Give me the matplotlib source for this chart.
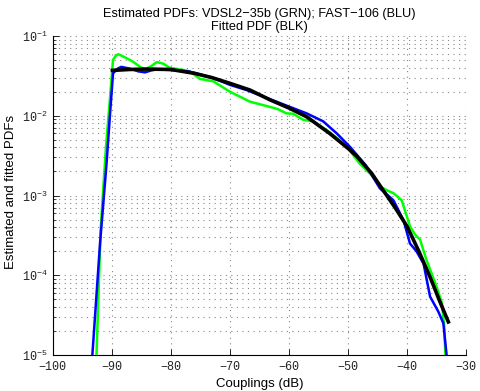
import matplotlib
matplotlib.use("Agg")
import matplotlib.pyplot as plt
from matplotlib.ticker import LogLocator, NullFormatter, FixedLocator

# Green: VDSL2-35b estimated PDF
green_x = [-93.0, -92.6, -91.9, -91.0, -90.3, -89.8, -89.3, -88.9, -88.0, -86.5, -85.2, -84.4,
           -83.3, -82.4, -81.3, -80.2, -78.5, -76.8, -75.1, -72.8, -70.0, -66.6, -64.4,
           -62.0, -60.4, -59.3, -57.6, -55.9, -53.6, -51.8, -50.2, -48.0, -46.0, -44.6,
           -43.3, -42.3, -40.9, -39.5, -38.6, -37.8, -36.7, -35.0, -34.1, -33.7, -33.5, -33.3]
green_y = [3e-6, 1e-5, 3.7e-4, 4e-3, 0.017, 0.050, 0.057, 0.059, 0.055, 0.048, 0.041, 0.038,
           0.042, 0.047, 0.045, 0.040, 0.038, 0.036, 0.029, 0.027, 0.020, 0.015, 0.0136,
           0.0122, 0.0107, 0.0106, 0.0089, 0.0085, 0.0066, 0.0052, 0.0041, 0.0025, 0.0018, 0.0013,
           0.00115, 0.00107, 8.7e-4, 4.1e-4, 3.2e-4, 2.8e-4, 1.55e-4, 7.2e-5, 4.5e-5, 2.3e-5, 1e-5, 3e-6]

# Blue: FAST-106 estimated PDF
blue_x = [-93.6, -93.3, -92.0, -90.9, -90.3, -89.8, -89.0, -88.4, -87.0, -85.5, -84.4,
          -83.3, -82.4, -80.0, -77.0, -73.0, -70.0, -67.2, -64.0, -61.5, -59.0, -57.0,
          -54.2, -51.9, -49.7, -47.0, -44.6, -42.3, -40.6, -39.5, -38.4, -37.2, -36.1,
          -34.7, -33.85, -33.3, -33.0]
blue_y = [3e-6, 1e-5, 2.5e-4, 2.5e-3, 0.0107, 0.034, 0.039, 0.041, 0.039, 0.036, 0.035,
          0.037, 0.038, 0.0375, 0.036, 0.030, 0.0244, 0.021, 0.017, 0.0144, 0.0122, 0.0107,
          0.0085, 0.006, 0.0041, 0.0024, 0.00123, 8.7e-4, 4.9e-4, 2.5e-4, 2.0e-4, 1.4e-4, 5.4e-5,
          3.5e-5, 2.5e-5, 1e-5, 3e-6]

# Black: fitted PDF
black_x = [-89.9, -87.0, -84.0, -80.0, -76.0, -73.0, -70.0, -66.6, -63.2, -60.0, -57.0,
           -53.1, -50.0, -48.5, -46.0, -44.0, -42.0, -40.0, -38.0, -36.1, -34.5, -33.0]
black_y = [0.037, 0.038, 0.0385, 0.038, 0.034, 0.030, 0.0255, 0.021, 0.0158, 0.0125, 0.0097,
           0.006, 0.0039, 0.0031, 0.0019, 0.00115, 7.0e-4, 4.1e-4, 2.0e-4, 9.5e-5, 4.8e-5, 2.6e-5]

x_ticks = [-100, -90, -80, -70, -60, -50, -40, -30]
title_text = "Estimated PDFs: VDSL2\u221235b (GRN); FAST\u2212106 (BLU)\nFitted PDF (BLK)"
x_label = "Couplings (dB)"
y_label = "Estimated and fitted PDFs"

fig = plt.figure(figsize=(4.8, 3.91), dpi=100)
ax = fig.add_axes([0.110, 0.092, 0.861, 0.816])

ax.semilogy(green_x, green_y, color=(0, 1, 0), lw=1.8, zorder=3)
ax.semilogy(blue_x, blue_y, color=(0, 0, 1), lw=1.8, zorder=4)
ax.semilogy(black_x, black_y, color="black", lw=2.6, zorder=5)

ax.set_xlim(-100, -30)
ax.set_ylim(1e-5, 1e-1)
ax.xaxis.set_major_locator(FixedLocator(x_ticks))
ax.set_xticklabels([("\u2212%d" % abs(v)) for v in x_ticks], family="Liberation Mono", fontsize=8.5)
ax.yaxis.set_major_locator(LogLocator(base=10, numticks=10))
ax.yaxis.set_minor_locator(LogLocator(base=10, subs=range(2, 10), numticks=50))
ax.yaxis.set_minor_formatter(NullFormatter())
for lab in ax.get_yticklabels():
    lab.set_family("Liberation Mono")
    lab.set_fontsize(8.5)

ax.grid(True, which="major", axis="both", linestyle=(0, (1, 4)), color="#888888", lw=0.8)
ax.grid(True, which="minor", axis="y", linestyle=(0, (1, 4)), color="#888888", lw=0.8)
ax.spines["top"].set_visible(False)
ax.spines["right"].set_visible(False)
ax.spines["left"].set_linewidth(0.8)
ax.spines["bottom"].set_linewidth(0.8)
ax.tick_params(which="both", direction="in", top=False, right=False, labelcolor="#222222")
ax.tick_params(which="major", length=4, width=0.6, pad=4)
ax.tick_params(which="minor", length=2.5, width=0.5)

ax.set_title(title_text, family="Liberation Sans", fontsize=9.2, pad=4, linespacing=1.15)
ax.set_xlabel(x_label, family="Liberation Sans", fontsize=9.5, labelpad=4)
ax.set_ylabel(y_label, family="Liberation Sans", fontsize=9.5)
ax.yaxis.set_label_coords(-0.086, 0.51)

fig.savefig("out.png", dpi=100)
